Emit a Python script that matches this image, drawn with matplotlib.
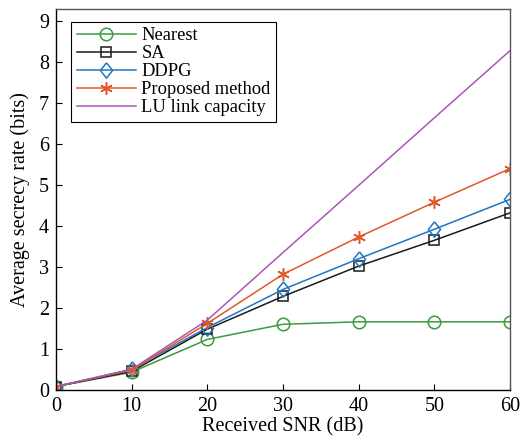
import matplotlib
matplotlib.use("Agg")
import matplotlib.pyplot as plt

plt.rcParams['font.family'] = ['Liberation Serif', 'DejaVu Serif']
plt.rcParams['mathtext.fontset'] = 'stix'

snr = [0, 10, 20, 30, 40, 50, 60]
nearest = [0.08, 0.43, 1.23, 1.60, 1.66, 1.66, 1.66]
sa = [0.08, 0.45, 1.48, 2.28, 3.02, 3.65, 4.32]
ddpg = [0.08, 0.50, 1.52, 2.45, 3.20, 3.92, 4.65]
proposed = [0.08, 0.48, 1.62, 2.82, 3.73, 4.58, 5.40]
lu_capacity = [0.08, 0.50, 1.70, 3.35, 4.99, 6.64, 8.28]

# matlab-like tall diamond
diamond = [(0, 1), (0.8, 0), (0, -1), (-0.8, 0), (0, 1)]

fig = plt.figure(figsize=(5.22, 4.45), dpi=100)
ax = fig.add_axes([0.107, 0.124, 0.870, 0.856])

ax.plot(snr, nearest, color="#3a9a3f", marker="o", markersize=9, mfc="none",
        mew=1.1, lw=1.1, label="Nearest")
ax.plot(snr, sa, color="#1a1a1a", marker="s", markersize=7.5, mfc="none",
        mew=1.1, lw=1.1, label="SA")
ax.plot(snr, ddpg, color="#1f77c4", marker=diamond, markersize=11, mfc="none",
        mew=1.1, lw=1.1, label="DDPG")
ax.plot(snr, proposed, color="#e0582a", marker=(6, 2, 0), markersize=9,
        mew=1.1, lw=1.1, label="Proposed method")
ax.plot(snr, lu_capacity, color="#a957b5", lw=1.1, label="LU link capacity")

ax.set_xlim(0, 60)
ax.set_ylim(0, 9.3)
ax.set_xticks(snr)
ax.set_yticks(range(10))
ax.tick_params(direction="in", length=4, labelsize=14.5, width=0.8, pad=5)
ax.set_xlabel("Received SNR (dB)", fontsize=14.5, labelpad=1)
ax.set_ylabel("Average secrecy rate (bits)", fontsize=14.5, labelpad=6)
for s in ax.spines.values():
  s.set_linewidth(1.0)
ax.spines['right'].set_color("#555555")
ax.spines['top'].set_color("#555555")

leg = ax.legend(loc="upper left", bbox_to_anchor=(0.034, 0.966),
                fontsize=13.3, fancybox=False, framealpha=1,
                edgecolor="black", handlelength=3.2, borderpad=0.3,
                labelspacing=0.05, handletextpad=0.3, borderaxespad=0.0)
leg.get_frame().set_linewidth(0.8)

fig.savefig("out.png", dpi=100)
